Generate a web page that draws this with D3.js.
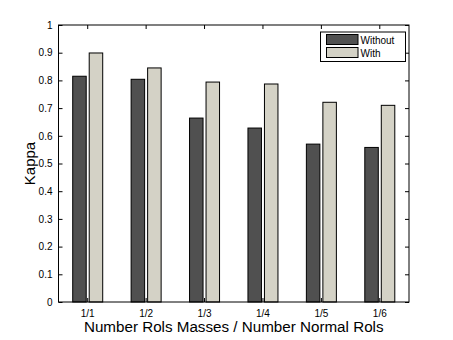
<!DOCTYPE html>
<html>
<head>
<meta charset="utf-8">
<script src="https://cdn.jsdelivr.net/npm/d3@7"></script>
<style>
  html, body { margin: 0; padding: 0; background: #fff; }
  svg { display: block; }
  text { font-family: "Liberation Sans", Arial, Helvetica, sans-serif; fill: #000; }
</style>
</head>
<body>
<svg id="chart" width="453" height="340"></svg>
<script>
// Kappa per ratio of RoI masses to normal RoIs
const categories = ["1/1", "1/2", "1/3", "1/4", "1/5", "1/6"];
const seriesNames = ["Without", "With"];
const withoutValues = [0.815, 0.804, 0.664, 0.628, 0.570, 0.558];
const withValues = [0.899, 0.845, 0.794, 0.787, 0.721, 0.710];
const yTicks = [0, 0.1, 0.2, 0.3, 0.4, 0.5, 0.6, 0.7, 0.8, 0.9, 1];
const colors = ["#505050", "#d4d2c6"];

const svg = d3.select("#chart");
const margin = { left: 58.5, right: 44, top: 25, bottom: 38 };
const W = 453, H = 340;
const x0 = margin.left, x1 = W - margin.right;
const y0 = H - margin.bottom, y1 = margin.top;

const x = d3.scaleBand().domain(categories).range([x0, x1]).paddingInner(0).paddingOuter(0);
const y = d3.scaleLinear().domain([0, 1]).range([y0, y1]);

const series = [withoutValues, withValues];
const barW = 13.5, gap = 3;
const offsets = [-(gap / 2 + barW), gap / 2];

const g = svg.append("g");

series.forEach((vals, si) => {
  g.selectAll(null)
    .data(vals)
    .enter()
    .append("rect")
    .attr("x", (d, i) => x(categories[i]) + x.bandwidth() / 2 + offsets[si])
    .attr("y", d => y(d))
    .attr("width", barW)
    .attr("height", d => y(0) - y(d))
    .attr("fill", colors[si])
    .attr("stroke", "#000")
    .attr("stroke-width", 1);
});

// Axes: left and bottom with labels, inward ticks all round
const tickLen = 4;
const leftAxis = d3.axisLeft(y).tickValues(yTicks).tickSizeInner(-tickLen).tickSizeOuter(0)
  .tickFormat(d => d3.format("")(+d.toFixed(1)));
const gl = svg.append("g").attr("transform", `translate(${x0},0)`).call(leftAxis);
gl.selectAll("text").attr("x", -6).style("font-size", "10px");

const rightAxis = d3.axisRight(y).tickValues(yTicks).tickSizeInner(-tickLen).tickSizeOuter(0).tickFormat("");
svg.append("g").attr("transform", `translate(${x1},0)`).call(rightAxis);

const bottomAxis = d3.axisBottom(x).tickSizeInner(-tickLen).tickSizeOuter(0);
const gb = svg.append("g").attr("transform", `translate(0,${y0})`).call(bottomAxis);
gb.selectAll("text").attr("y", 8).attr("dy", "0.71em").style("font-size", "10px");

const topAxis = d3.axisTop(x).tickSizeInner(-tickLen).tickSizeOuter(0).tickFormat("");
svg.append("g").attr("transform", `translate(0,${y1})`).call(topAxis);

svg.selectAll(".domain").remove();
svg.selectAll(".tick line").attr("stroke", "#000");

// Frame
svg.append("rect")
  .attr("x", x0).attr("y", y1)
  .attr("width", x1 - x0).attr("height", y0 - y1)
  .attr("fill", "none").attr("stroke", "#000").attr("stroke-width", 1);

// Axis titles
svg.append("text")
  .attr("x", (x0 + x1) / 2).attr("y", 332)
  .attr("text-anchor", "middle")
  .style("font-size", "15.2px")
  .text("Number Rols Masses / Number Normal Rols");

svg.append("text")
  .attr("transform", `translate(35,${(y0 + y1) / 2}) rotate(-90)`)
  .attr("text-anchor", "middle")
  .style("font-size", "15px")
  .text("Kappa");

// Legend
const lg = svg.append("g").attr("transform", "translate(320.5,32)");
lg.append("rect").attr("width", 85).attr("height", 29.5)
  .attr("fill", "#fff").attr("stroke", "#000").attr("stroke-width", 1);
seriesNames.forEach((name, i) => {
  lg.append("rect")
    .attr("x", 6).attr("y", 2.5 + i * 13)
    .attr("width", 31.5).attr("height", 10)
    .attr("fill", colors[i]).attr("stroke", "#000").attr("stroke-width", 1);
  lg.append("text")
    .attr("x", 40).attr("y", 11.5 + i * 13)
    .style("font-size", "10px")
    .text(name);
});
</script>
</body>
</html>
